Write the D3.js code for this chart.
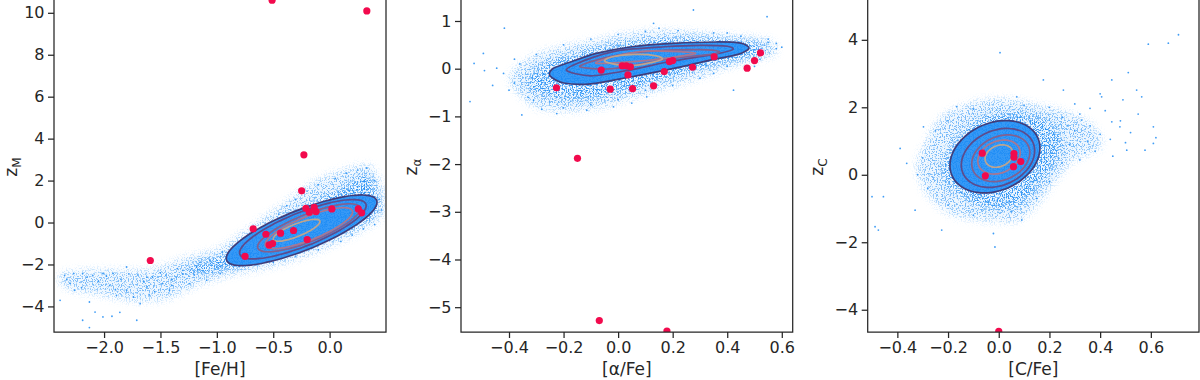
<!DOCTYPE html>
<html>
<head>
<meta charset="utf-8">
<script src="https://cdn.jsdelivr.net/npm/d3@7"></script>
<style>
body { margin: 0; background: #fff; }
svg text { font-family: "DejaVu Sans", sans-serif; fill: #262626; }
</style>
</head>
<body>
<svg id="chart" width="1200" height="380"></svg>
<script>

// ---- panel 1 : [Fe/H] vs z_M ----
let feTicksX = [-2.0, -1.5, -1.0, -0.5, 0.0];
let feTicksY = [-4, -2, 0, 2, 4, 6, 8, 10];
let feRed = [[-0.51,10.6],[0.33,10.09],[-0.228,3.23],[-0.248,1.51],[-1.59,-1.81],[-0.21,0.68],[-0.18,0.49],
    [-0.137,0.72],[-0.12,0.52],[0.02,0.65],[0.254,0.65],[0.284,0.46],[-0.678,-0.30],[-0.565,-0.56],
    [-0.435,-0.51],[-0.32,-0.38],[-0.199,-0.81],[-0.536,-1.07],[-0.506,-1.00],[-0.75,-1.61]];
let feSparse = [[-2.38,-2.45],[-2.0,-2.3],[-1.6,-2.3],[-1.27,-1.7],[-1.0,-1.35],[-0.85,-0.85],[-0.56,0.27],
    [-0.35,1.06],[-0.12,1.94],[0.15,2.5],[0.36,2.65],[0.47,1.4],[0.45,0.27],[0.27,-0.37],[-0.03,-1.16],
    [-0.26,-1.64],[-0.56,-2.12],[-0.86,-2.43],[-1.15,-2.9],[-1.45,-3.6],[-1.74,-3.7],[-2.04,-3.4],[-2.33,-3.1]];
let feDense = [[-1.2,-2.0],[-0.95,-1.6],[-0.75,-1.1],[-0.55,-0.5],[-0.4,0.1],[-0.25,0.7],[-0.1,1.1],[0.1,1.6],
    [0.25,2.2],[0.35,2.2],[0.42,1.5],[0.44,0.7],[0.35,0.1],[0.15,-0.45],[-0.1,-0.95],[-0.35,-1.4],
    [-0.6,-1.85],[-0.85,-2.2],[-1.1,-2.4],[-1.3,-2.5]];
let feDots = [[-2.39,-3.71],[-2.35,-2.52],[-2.27,-2.43],[-2.19,-2.43],[-2.10,-2.52],[-2.01,-2.43],[-1.92,-2.43],
    [-2.26,-3.23],[-2.13,-3.79],[-2.08,-4.27],[-2.19,-4.66],[-2.13,-5.01],[-2.01,-4.5],[-1.93,-4.47],
    [-1.86,-4.28],[-1.89,-3.47],[-1.80,-3.23],[-1.74,-3.55],[-1.68,-3.87],[-1.62,-3.07],[-1.57,-2.60],
    [-1.48,-2.91],[-1.42,-3.23],[-1.36,-2.60],[-1.30,-2.28],[-1.24,-2.91],[-1.18,-2.12],[-1.09,-2.75],
    [-1.06,-1.80],[-0.97,-2.43],[-1.71,-4.66],[-1.80,-2.12],[-2.3,-2.9],[-2.2,-3.1],[-2.05,-2.8],[-1.95,-3.0],
    [-1.85,-2.7],[-1.7,-2.5],[-1.65,-2.8],[-1.55,-3.3],[-1.5,-2.4],[-1.4,-2.7],[-1.35,-2.2],[-1.2,-2.5],
    [-1.15,-1.9],[-1.0,-2.1],[-0.92,-1.7],[-0.8,-2.1],[-0.7,-1.9],[-0.6,-0.4],[-0.5,-0.1],[-0.45,0.4],
    [-0.38,0.8],[-0.3,1.1],[-0.2,1.5],[-0.1,1.8],[0.05,2.1],[0.15,2.35],[0.25,2.5],[0.33,2.6],[0.4,2.0],
    [0.44,1.1],[0.46,0.6],[0.4,-0.1],[0.3,-0.3],[0.1,-0.9],[-0.1,-1.3],[-0.3,-1.6],[-0.5,-1.9],[-0.2,-1.2],
    [0.0,-0.85],[0.2,-0.6],[-0.75,-1.2],[-0.65,-0.7],[-0.95,-1.4],[-2.33,-2.7],[-2.15,-2.6],[-1.98,-2.55],
    [-1.78,-2.45],[-1.62,-2.6],[-1.45,-2.5],[-1.3,-2.45],[-1.12,-2.3],[-1.4,-3.0],[-1.6,-3.45],[-1.9,-3.2]];
// contour levels: centre x, centre y, scale of the base ellipse
let feLevels = [[-0.248,-0.37,1.0],[-0.237,-0.32,0.84],[-0.184,-0.25,0.68],[-0.184,-0.27,0.58],[-0.293,-0.37,0.31]];
let feAxisA = [0.665, 1.43];
let feAxisB = [-0.066, 0.89];

// ---- panel 2 : [alpha/Fe] vs z_alpha ----
let alTicksX = [-0.4, -0.2, 0.0, 0.2, 0.4, 0.6];
let alTicksY = [-5, -4, -3, -2, -1, 0, 1];
let alRed = [[-0.226,-0.40],[-0.062,-0.03],[-0.029,-0.43],[0.015,0.06],[0.03,0.06],[0.045,0.04],[0.036,-0.13],
    [0.053,-0.42],[0.13,-0.36],[0.169,-0.06],[0.188,0.15],[0.20,0.17],[0.273,0.03],[0.352,0.25],[0.473,0.01],
    [0.50,0.17],[0.522,0.33],[-0.149,-1.88],[-0.069,-5.28],[0.179,-5.5]];
let alSparse = [[-0.396,-0.17],[-0.31,0.25],[-0.19,0.46],[-0.066,0.6],[0.056,0.74],[0.179,0.78],[0.30,0.74],
    [0.423,0.67],[0.546,0.6],[0.58,0.39],[0.546,0.25],[0.423,0.08],[0.30,-0.17],[0.179,-0.38],[0.056,-0.59],
    [-0.066,-0.80],[-0.188,-0.87],[-0.298,-0.80],[-0.36,-0.52]];
let alDense = [[-0.33,-0.15],[-0.25,0.15],[-0.12,0.38],[0.05,0.56],[0.2,0.64],[0.4,0.62],[0.52,0.52],[0.55,0.38],
    [0.45,0.2],[0.3,0.0],[0.15,-0.25],[0.0,-0.5],[-0.12,-0.65],[-0.25,-0.62],[-0.32,-0.45]];
let alDots = [[-0.543,-0.69],[-0.417,0.85],[-0.494,0.32],[-0.528,0.11],[-0.445,0.01],[-0.353,-0.97],[-0.31,-0.66],
    [-0.225,-0.94],[-0.115,-0.87],[-0.017,-0.80],[0.105,-0.59],[0.546,1.09],[0.276,1.23],[0.58,0.53],
    [0.423,-0.45],[0.13,0.95],[-0.49,-0.04],[-0.38,-0.3],[-0.36,0.1],[-0.3,0.3],[-0.25,-0.7],[-0.2,0.5],
    [-0.1,0.62],[0.0,0.72],[0.1,0.78],[0.22,0.8],[0.35,0.75],[0.45,0.68],[0.55,0.62],[0.58,0.42],[0.52,0.2],
    [0.4,0.05],[0.3,-0.2],[0.2,-0.35],[0.1,-0.45],[0.0,-0.65],[-0.1,-0.75],[-0.28,-0.85],[-0.4,-0.45],
    [-0.33,-0.6],[-0.46,-0.35],[0.60,0.45],[0.55,0.55],[-0.42,-0.1],[-0.38,0.2],[-0.2,-0.82],[0.05,-0.72],
    [0.15,0.85],[0.4,0.75],[0.5,0.05],[0.35,-0.1]];
let alContour1 = [[-0.25,-0.15],[-0.20,-0.30],[-0.10,-0.32],[0.04,-0.18],[0.20,0.0],[0.33,0.17],[0.44,0.30],
    [0.48,0.43],[0.45,0.535],[0.36,0.56],[0.20,0.53],[0.05,0.46],[-0.08,0.32],[-0.18,0.13],[-0.24,0.0]];
let alContour2 = [[-0.19,-0.03],[-0.10,-0.15],[0.04,-0.03],[0.19,0.15],[0.35,0.30],[0.42,0.40],[0.40,0.47],
    [0.30,0.49],[0.17,0.46],[0.0,0.38],[-0.12,0.18]];
let alContour3 = [[-0.14,0.04],[-0.02,0.0],[0.19,0.21],[0.34,0.30],[0.37,0.36],[0.30,0.40],[0.15,0.38],
    [0.04,0.32],[-0.08,0.18]];
let alContour4 = [[-0.08,0.11],[0.10,0.17],[0.27,0.30],[0.27,0.34],[0.16,0.37],[0.08,0.36],[-0.02,0.25]];
let alContour5 = [[-0.05,0.16],[0.0,0.08],[0.08,0.08],[0.16,0.19],[0.14,0.27],[0.06,0.30],[-0.02,0.25]];

// ---- panel 3 : [C/Fe] vs z_C ----
let cTicksX = [-0.4, -0.2, 0.0, 0.2, 0.4, 0.6];
let cTicksY = [-4, -2, 0, 2, 4];
let cRed = [[-0.065,0.64],[-0.053,-0.03],[0.06,0.63],[0.06,0.52],[0.058,0.24],[0.087,0.39],[0.0,-4.64]];
let cSparse = [[-0.32,0.24],[-0.28,1.03],[-0.22,1.72],[-0.10,2.12],[0.03,2.22],[0.16,2.02],[0.27,1.82],
    [0.37,1.42],[0.40,0.83],[0.29,0.44],[0.20,-0.36],[0.14,-0.95],[0.07,-1.34],[-0.05,-1.34],[-0.19,-1.15],
    [-0.28,-0.55]];
let cDense = [[-0.22,0.4],[-0.15,1.2],[-0.05,1.75],[0.08,1.85],[0.2,1.6],[0.25,1.0],[0.22,0.3],[0.15,-0.4],
    [0.08,-0.9],[-0.05,-1.0],[-0.15,-0.6],[-0.22,-0.1]];
let cDots = [[0.709,4.15],[0.669,3.9],[0.59,3.87],[0.005,3.62],[0.511,3.03],[0.446,2.81],[0.544,2.51],
    [0.564,2.31],[0.49,2.22],[0.36,1.97],[0.406,2.31],[0.61,1.42],[0.61,0.93],[0.505,0.73],[0.577,0.73],
    [0.478,1.42],[0.446,1.57],[0.32,0.44],[0.327,1.62],[0.176,2.81],[0.255,2.51],[-0.389,0.78],[-0.297,1.42],
    [-0.50,-0.65],[-0.455,-0.65],[-0.488,-1.54],[-0.475,-1.64],[-0.33,-1.05],[-0.225,-1.64],[-0.021,-1.74],
    [-0.015,-2.14],[0.091,-1.34],[-0.363,0.34],[-0.166,2.02],[0.071,2.31],[0.25,1.7],[0.3,1.3],[0.35,1.0],
    [0.4,1.2],[0.28,0.9],[0.22,1.2],[0.38,0.7],[0.42,1.9],[0.3,2.1],[0.2,2.0],[-0.25,1.3],[-0.3,0.5],
    [-0.32,0.0],[-0.28,-0.4],[-0.2,-0.9],[-0.1,-1.2],[0.05,-1.1],[0.15,-0.7],[0.2,-0.2],[-0.1,1.95],
    [0.1,2.05],[-0.2,1.6],[0.44,1.05],[0.48,1.6],[0.52,1.25],[0.36,1.45],[0.32,1.8],[0.45,0.55],
    [0.55,1.8],[0.5,0.95],[0.27,1.45],[0.34,0.65],[0.25,0.35],[0.4,2.4],[0.62,1.1]];
let cLevels = [[-0.015,0.534,1.0],[-0.003,0.50,0.815],[0.008,0.49,0.645],[0.001,0.525,0.47],[0.001,0.555,0.31]];
let cAxisA = [0.1775, 0.26];
let cAxisB = [0.0, -1.04];

let levelColors = ["#3f3d7b", "#5d4b8c", "#83608f", "#aa7690", "#bea48f"];
let blue = "#1e8cf5";
let red = "#f20a4d";

let panels = [
    {left: 54, right: 386, xDom: [-2.444, 0.50], yDom: [-5.22, 10.61], xTicks: feTicksX, yTicks: feTicksY,
     xLabel: "[Fe/H]", sub: "M", labelX: 12, red: feRed, sparse: feSparse, dense: feDense,
     dots: feDots, ellipse: {levels: feLevels, A: feAxisA, B: feAxisB}},
    {left: 461, right: 792.7, xDom: [-0.576, 0.640], yDom: [-5.52, 1.44], xTicks: alTicksX, yTicks: alTicksY,
     xLabel: "[α/Fe]", sub: "α", labelX: 412, red: alRed, sparse: alSparse, dense: alDense,
     dots: alDots, polys: [alContour1, alContour2, alContour3, alContour4, alContour5]},
    {left: 867.7, right: 1199, xDom: [-0.517, 0.79], yDom: [-4.66, 5.18], xTicks: cTicksX, yTicks: cTicksY,
     xLabel: "[C/Fe]", sub: "C", labelX: 818, red: cRed, sparse: cSparse, dense: cDense,
     dots: cDots, ellipse: {levels: cLevels, A: cAxisA, B: cAxisB}}
];

let plotTop = 0, plotBottom = 332;
let svg = d3.select("#chart");

let defs = svg.append("defs");
defs.append("filter").attr("id", "soft")
    .attr("x", "-20%").attr("y", "-20%").attr("width", "140%").attr("height", "140%")
    .append("feGaussianBlur").attr("stdDeviation", 3);

// grainy texture so the filled cloud reads like a mass of tiny markers
function speckle(id, seed, blur) {
    let f = defs.append("filter").attr("id", id)
        .attr("x", "-20%").attr("y", "-20%").attr("width", "140%").attr("height", "140%");
    f.append("feGaussianBlur").attr("in", "SourceGraphic").attr("stdDeviation", blur).attr("result", "soft");
    f.append("feTurbulence").attr("type", "fractalNoise").attr("baseFrequency", 0.75)
        .attr("numOctaves", 2).attr("seed", seed).attr("result", "noise");
    f.append("feColorMatrix").attr("in", "noise").attr("type", "matrix")
        .attr("values", "0 0 0 0 0  0 0 0 0 0  0 0 0 0 0  9 0 0 0 -4.6").attr("result", "grain");
    f.append("feComposite").attr("in", "soft").attr("in2", "grain").attr("operator", "in");
}
speckle("grainA", 4, 5);
speckle("grainB", 11, 3);

panels.forEach(function(p, i) {
    let x = d3.scaleLinear().domain(p.xDom).range([p.left, p.right]);
    let y = d3.scaleLinear().domain(p.yDom).range([plotBottom, plotTop]);

    defs.append("clipPath").attr("id", "clip" + i)
        .append("rect")
        .attr("x", p.left).attr("y", -5)
        .attr("width", p.right - p.left).attr("height", plotBottom + 5);

    let g = svg.append("g").attr("clip-path", "url(#clip" + i + ")");

    let poly = d3.line().x(d => x(d[0])).y(d => y(d[1])).curve(d3.curveCardinalClosed.tension(0.2));

    // cloud of sample stars
    g.append("path").attr("d", poly(p.sparse)).attr("fill", blue).attr("opacity", 0.07)
        .attr("filter", "url(#soft)");
    g.append("path").attr("d", poly(p.sparse)).attr("fill", blue).attr("opacity", 0.55)
        .attr("filter", "url(#grainA)");
    g.append("path").attr("d", poly(p.dense)).attr("fill", blue).attr("opacity", 0.85)
        .attr("filter", "url(#grainB)");

    g.selectAll(".dot")
        .data(p.dots)
        .enter().append("circle")
        .attr("class", "dot")
        .attr("cx", d => x(d[0]))
        .attr("cy", d => y(d[1]))
        .attr("r", 0.9)
        .attr("fill", blue)
        .attr("opacity", 0.85);

    // contour shapes
    let shapes;
    if (p.ellipse) {
        let e = p.ellipse;
        shapes = e.levels.map(function(l) {
            return d3.range(0, 360, 6).map(function(a) {
                let t = a * Math.PI / 180;
                return [l[0] + l[2] * (e.A[0] * Math.cos(t) + e.B[0] * Math.sin(t)),
                        l[1] + l[2] * (e.A[1] * Math.cos(t) + e.B[1] * Math.sin(t))];
            });
        });
    } else {
        shapes = p.polys;
    }
    g.append("path").attr("d", poly(shapes[0])).attr("fill", blue).attr("opacity", 0.88);

    g.selectAll(".contour")
        .data(shapes)
        .enter().append("path")
        .attr("class", "contour")
        .attr("d", d => poly(d))
        .attr("fill", "none")
        .attr("stroke", (d, k) => levelColors[k])
        .attr("stroke-width", 1.7);

    g.selectAll(".obs")
        .data(p.red)
        .enter().append("circle")
        .attr("class", "obs")
        .attr("cx", d => x(d[0]))
        .attr("cy", d => y(d[1]))
        .attr("r", 3.6)
        .attr("fill", red);

    // axes
    let xAxis = d3.axisBottom(x).tickValues(p.xTicks).tickFormat(d3.format(".1f"))
        .tickSize(6).tickPadding(4);
    let yAxis = d3.axisLeft(y).tickValues(p.yTicks).tickFormat(d3.format("d"))
        .tickSize(6).tickPadding(3.5);

    let xg = svg.append("g").attr("transform", "translate(0," + plotBottom + ")").call(xAxis);
    let yg = svg.append("g").attr("transform", "translate(" + p.left + ",0)").call(yAxis);
    [xg, yg].forEach(function(a) {
        a.select(".domain").remove();
        a.selectAll("line").attr("stroke", "#262626").attr("stroke-width", 1.25);
        a.selectAll("text").style("font-size", "16px").attr("fill", "#262626");
    });

    // frame
    svg.append("path")
        .attr("d", "M" + p.left + ",-2V" + plotBottom + "H" + p.right + "V-2")
        .attr("fill", "none")
        .attr("stroke", "#262626")
        .attr("stroke-width", 1.25);

    svg.append("text")
        .attr("x", (p.left + p.right) / 2)
        .attr("y", 375)
        .attr("text-anchor", "middle")
        .style("font-size", "17px")
        .text(p.xLabel);

    let yl = svg.append("text")
        .attr("transform", "translate(" + (p.labelX + 5) + ",167) rotate(-90)")
        .attr("text-anchor", "middle")
        .style("font-size", "17px");
    yl.append("tspan").text("z");
    yl.append("tspan").attr("dy", 4).style("font-size", "12px").text(p.sub);
});

</script>
</body>
</html>
